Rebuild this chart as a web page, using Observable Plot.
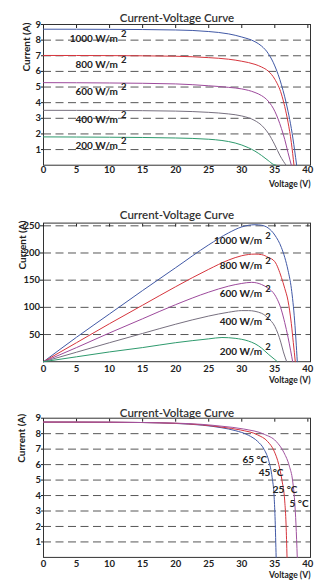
<!DOCTYPE html>
<html>
<head>
<meta charset="utf-8">
<script src="https://cdn.jsdelivr.net/npm/d3@7"></script>
<script src="https://cdn.jsdelivr.net/npm/@observablehq/plot@0.6"></script>
<style>
html, body { margin: 0; padding: 0; background: #fff; }
#chart { width: 321px; height: 583px; overflow: hidden; }
#chart svg { display: block; }
</style>
</head>
<body>
<div id="chart"></div>
<script>
// ---------- axis ticks ----------
const voltageTicks = [0, 5, 10, 15, 20, 25, 30, 35, 40];
const currentTicks = [1, 2, 3, 4, 5, 6, 7, 8, 9];
const currentGrid = [1, 2, 3, 4, 5, 6, 7, 8];
const powerTicks = [50, 100, 150, 200, 250];

// ---------- series names ----------
const irradianceNames = ["1000 W/m", "800 W/m", "600 W/m", "400 W/m", "200 W/m"];
const temperatureNames = ["65 °C", "45 °C", "25 °C", "5 °C"];
const temperatureCurves = ["65 °C", "45 °C", "25 °C"];

// ---------- panel 1: current vs voltage by irradiance ----------
const iv1000V = [0, 10, 20, 25, 28, 30, 32, 33, 34, 35, 36, 37, 37.5, 38, 38.3];
const iv1000I = [8.70, 8.69, 8.65, 8.55, 8.40, 8.20, 7.90, 7.62, 7.15, 6.35, 5.15, 3.45, 2.35, 0.95, 0];
const iv800V = [0, 10, 20, 25, 28, 30, 32, 33, 34, 35, 36, 36.5, 37, 37.5, 37.9];
const iv800I = [7.02, 7.01, 6.97, 6.88, 6.78, 6.65, 6.45, 6.28, 6.02, 5.50, 4.55, 3.75, 2.75, 1.45, 0];
const iv600V = [0, 10, 20, 25, 28, 30, 32, 33, 34, 35, 36, 36.5, 37, 37.5];
const iv600I = [5.28, 5.26, 5.20, 5.08, 4.98, 4.88, 4.65, 4.45, 4.10, 3.45, 2.35, 1.65, 0.80, 0];
const iv400V = [0, 10, 20, 25, 28, 30, 32, 33, 34, 35, 35.8, 36.3, 36.7];
const iv400I = [3.51, 3.50, 3.46, 3.38, 3.28, 3.15, 2.85, 2.55, 2.05, 1.30, 0.60, 0.25, 0];
const iv200V = [0, 10, 20, 25, 27, 29, 31, 32, 33, 34, 34.8, 35.2];
const iv200I = [1.81, 1.79, 1.74, 1.66, 1.58, 1.42, 1.12, 0.90, 0.62, 0.30, 0.05, 0];

// ---------- panel 2: power vs voltage by irradiance ----------
const pv1000V = [0, 5, 10, 15, 20, 25, 28, 30, 32, 33, 34, 35, 36, 36.5, 37, 37.5, 38, 38.2, 38.4];
const pv1000P = [0, 45, 88, 131, 173, 215, 237, 248, 252, 251, 246, 233, 210, 192, 168, 135, 75, 40, 0];
const pv800V = [0, 5, 10, 15, 20, 25, 28, 30, 32, 33, 34, 35, 36, 36.5, 37, 37.5, 37.8, 38.1];
const pv800P = [0, 35, 70, 104, 138, 170, 187, 195, 198, 197, 192, 184, 155, 135, 112, 70, 35, 0];
const pv600V = [0, 5, 10, 15, 20, 25, 28, 30, 31.5, 33, 34, 35, 36, 36.5, 37, 37.4, 37.7];
const pv600P = [0, 26, 53, 79, 105, 128, 139, 144, 146, 142, 135, 123, 95, 72, 45, 20, 0];
const pv400V = [0, 5, 10, 15, 20, 25, 28, 30, 31, 33, 34, 35, 35.9, 36.3, 36.8];
const pv400P = [0, 17.5, 35, 52, 69, 84, 91, 94, 94, 89, 80, 65, 36, 18, 0];
const pv200V = [0, 5, 10, 15, 20, 25, 27, 29, 31, 32, 33, 34, 35, 35.4];
const pv200P = [0, 9, 18, 26, 35, 42, 44.5, 43, 38, 33, 25, 14, 4, 0];

// ---------- panel 3: current vs voltage by temperature ----------
const t65V = [0, 10, 15, 20, 24, 27, 29, 31, 32.4, 33.4, 34.1, 34.6, 34.9, 35.05, 35.2];
const t65I = [8.75, 8.74, 8.72, 8.66, 8.55, 8.38, 8.20, 7.90, 7.50, 6.97, 6.22, 5.15, 3.90, 2.40, 0];
const t45V = [0, 10, 15, 20, 24, 27, 29.8, 32.4, 33.9, 34.9, 35.6, 36.1, 36.5, 36.7, 36.85];
const t45I = [8.75, 8.74, 8.72, 8.67, 8.57, 8.42, 8.24, 7.92, 7.50, 6.87, 6.00, 4.94, 3.65, 2.16, 0];
const t25V = [0, 10, 15, 20, 24, 27, 30.3, 33.4, 35.2, 36.4, 37.2, 37.7, 38.0, 38.2, 38.4];
const t25I = [8.75, 8.74, 8.72, 8.68, 8.60, 8.48, 8.30, 7.96, 7.50, 6.76, 5.90, 4.94, 3.65, 2.16, 0];

// ---------- annotation anchors ----------
const ivLabelV = [11.27, 11.27, 11.27, 11.27, 11.27];
const ivLabelI = [8.09, 6.42, 4.67, 2.92, 1.22];
const pvLabelV = [33.09, 33.09, 33.09, 33.09, 33.09];
const pvLabelP = [223, 175.7, 125, 72.7, 17.5];
const tLabelV = [33.85, 36.31, 38.43, 40.1];
const tLabelI = [6.33, 5.47, 4.36, 3.46];

// ---------- colours ----------
const irradianceColors = ["#4159a6", "#d6353d", "#9d4a9c", "#77707f", "#2e9a6d"];
const temperatureColors = ["#4159a6", "#d6353d", "#a0529f"];

const TITLE = "Current-Voltage Curve";
const YLABEL = "Current (A)";
const XLABEL = "Voltage (V)";
const FONT = "Lato, 'Open Sans', 'DejaVu Sans', sans-serif";

function toRows(names, Vs, Ys) {
  return names.flatMap((n, k) => Vs[k].map((v, j) => ({s: n, v, y: Ys[k][j]})));
}

const ivRows = toRows(irradianceNames, [iv1000V, iv800V, iv600V, iv400V, iv200V], [iv1000I, iv800I, iv600I, iv400I, iv200I]);
const pvRows = toRows(irradianceNames, [pv1000V, pv800V, pv600V, pv400V, pv200V], [pv1000P, pv800P, pv600P, pv400P, pv200P]);
const tRows = toRows(temperatureCurves, [t65V, t45V, t25V], [t65I, t45I, t25I]);

function panel(o) {
  return Plot.plot({
    width: 321,
    height: o.height,
    marginLeft: 43,
    marginRight: 11,
    marginTop: o.mt,
    marginBottom: o.mb,
    style: {fontFamily: FONT, fontSize: "10px", color: "#222", background: "#fff"},
    x: {domain: [0, 40.4]},
    y: {domain: o.yDomain},
    color: {domain: o.names, range: o.colors},
    marks: [
      Plot.gridY(o.grid, {stroke: "#3a3a3a", strokeOpacity: 0.85, strokeDasharray: "8,4.5"}),
      Plot.frame({stroke: "#333", strokeWidth: 1}),
      Plot.axisX(voltageTicks, {anchor: "bottom", tickSize: 0, tickPadding: o.xPad, fontWeight: "bold", fontSize: 9.5, label: null}),
      Plot.axisX(voltageTicks, {anchor: "top", tickSize: -3, tickFormat: () => "", label: null}),
      Plot.axisY(o.yTicks, {anchor: "left", tickSize: o.yTick, tickPadding: 0.5, fontWeight: "bold", fontSize: 9.5, label: null}),
      Plot.line(o.rows, {x: "v", y: "y", z: "s", stroke: "s", strokeWidth: 1, curve: "monotone-x"}),
      ...o.labels,
      Plot.text([TITLE], {text: d => d, frameAnchor: "top", dy: o.titleDy, fontSize: 11.5, fontWeight: 600, fill: "#333"}),
      Plot.text([YLABEL], {text: d => d, frameAnchor: "top-left", rotate: -90, textAnchor: "end", dx: o.ylDx, dy: o.ylDy, fontWeight: "bold", fontSize: 10, fill: "#222"}),
      Plot.text([XLABEL], {text: d => d, frameAnchor: "bottom-right", textAnchor: "end", dy: o.xlDy, fontWeight: "bold", fontSize: 8.5, fill: "#222"})
    ]
  });
}

function irrLabels(V, Y) {
  return [
    Plot.text(irradianceNames, {x: V, y: Y, text: d => d, textAnchor: "end", fontWeight: "bold", fontSize: 10, fill: "#222"}),
    Plot.text(irradianceNames, {x: V, y: Y, text: () => "2", textAnchor: "start", dx: 3, dy: -5, fontWeight: "bold", fontSize: 9.5, fill: "#222"})
  ];
}

const chart = document.getElementById("chart");

chart.append(panel({
  height: 194, mt: 24, mb: 29.3,
  yDomain: [0, 9], yTicks: currentTicks, grid: currentGrid, yTick: 2,
  rows: ivRows, names: irradianceNames, colors: irradianceColors,
  labels: irrLabels(ivLabelV, ivLabelI),
  xPad: 1.5, titleDy: -10.7, ylDx: -21, ylDy: -2, xlDy: 22
}));

chart.append(panel({
  height: 195, mt: 28.6, mb: 27.8,
  yDomain: [0, 255], yTicks: powerTicks, grid: powerTicks, yTick: 3,
  rows: pvRows, names: irradianceNames, colors: irradianceColors,
  labels: irrLabels(pvLabelV, pvLabelP),
  xPad: 3.5, titleDy: -12.6, ylDx: -25, ylDy: -2.6, xlDy: 21.5
}));

chart.append(panel({
  height: 194, mt: 28.7, mb: 26.1,
  yDomain: [0, 9], yTicks: currentTicks, grid: currentGrid, yTick: 2,
  rows: tRows, names: temperatureCurves, colors: temperatureColors,
  labels: [Plot.text(temperatureNames, {x: tLabelV, y: tLabelI, text: d => d, textAnchor: "end", fontWeight: "bold", fontSize: 10, fill: "#222"})],
  xPad: 2.5, titleDy: -9.4, ylDx: -26, ylDy: -4.4, xlDy: 21
}));
</script>
</body>
</html>
